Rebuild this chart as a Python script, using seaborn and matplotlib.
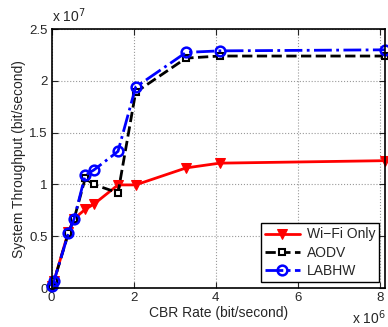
import numpy as np
import pandas as pd
import matplotlib
matplotlib.use("Agg")
import matplotlib.pyplot as plt
import seaborn as sns

# CBR rate (x 1e6 bit/s) and throughput (x 1e7 bit/s)
cbr_rate = [0.01, 0.06, 0.41, 0.55, 0.82, 1.03, 1.62, 2.05, 3.28, 4.1, 8.13]
wifi_only = [0.02, 0.07, 0.545, 0.67, 0.76, 0.81, 0.996, 0.996, 1.16, 1.206, 1.23]
aodv = [0.02, 0.07, 0.53, 0.67, 1.06, 1.0, 0.92, 1.89, 2.22, 2.24, 2.24]
labhw = [0.02, 0.07, 0.53, 0.67, 1.09, 1.14, 1.32, 1.94, 2.275, 2.29, 2.30]

x_ticks = [0, 2, 4, 6, 8]
y_ticks = [0, 0.5, 1, 1.5, 2, 2.5]

sns.set_style("ticks")
plt.rcParams['font.family'] = ['Liberation Sans', 'DejaVu Sans']
plt.rcParams['font.size'] = 10

df = pd.DataFrame({'rate': np.array(cbr_rate) * 1e6,
                   'wifi': np.array(wifi_only) * 1e7,
                   'aodv': np.array(aodv) * 1e7,
                   'labhw': np.array(labhw) * 1e7})

fig = plt.figure(figsize=(3.88, 3.27), dpi=100)
ax = fig.add_axes([0.133, 0.119, 0.859, 0.792])

sns.lineplot(data=df, x='rate', y='wifi', ax=ax, color='red', linestyle='-',
             linewidth=2, marker='v', markersize=7, markerfacecolor='red',
             markeredgecolor='red', label='Wi\u2212Fi Only', clip_on=False)
sns.lineplot(data=df, x='rate', y='aodv', ax=ax, color='black', linestyle='--',
             linewidth=2, marker='s', markersize=5, markerfacecolor='white',
             markeredgecolor='black', markeredgewidth=1.5, label='AODV', clip_on=False)
sns.lineplot(data=df, x='rate', y='labhw', ax=ax, color='blue', linestyle='-.',
             linewidth=2, marker='o', markersize=7, markerfacecolor='none',
             markeredgecolor='blue', markeredgewidth=1.8, label='LABHW', clip_on=False)

ax.set_xlim(0, 8.13e6)
ax.set_ylim(0, 2.5e7)
ax.set_xticks([t * 1e6 for t in x_ticks])
ax.set_xticklabels([str(t) for t in x_ticks])
ax.set_yticks([t * 1e7 for t in y_ticks])
ax.set_yticklabels(['0', '0.5', '1', '1.5', '2', '2.5'])
ax.tick_params(direction='in', length=4, top=True, right=True, labelsize=9.5, pad=3)
ax.grid(True, linestyle=':', color='#999999', linewidth=0.8)
for s in ax.spines.values():
    s.set_visible(True)
    s.set_linewidth(1.2)
    s.set_color('black')

ax.set_xlabel('CBR Rate (bit/second)', fontsize=10, labelpad=1)
ax.set_ylabel('System Throughput (bit/second)', fontsize=10, labelpad=2)

fig.text(0.133, 0.925, 'x 10$^{7}$', fontsize=10, ha='left', va='bottom')
fig.text(0.995, 0.0, 'x 10$^{6}$', fontsize=10, ha='right', va='bottom')

leg = ax.legend(loc='lower right', bbox_to_anchor=(0.983, 0.024), borderaxespad=0,
                fancybox=False, edgecolor='black', framealpha=1, fontsize=10,
                handlelength=2.5, handletextpad=0.5, labelspacing=0.3, borderpad=0.3)
leg.get_frame().set_linewidth(1.0)

fig.savefig('out.png', dpi=100)
